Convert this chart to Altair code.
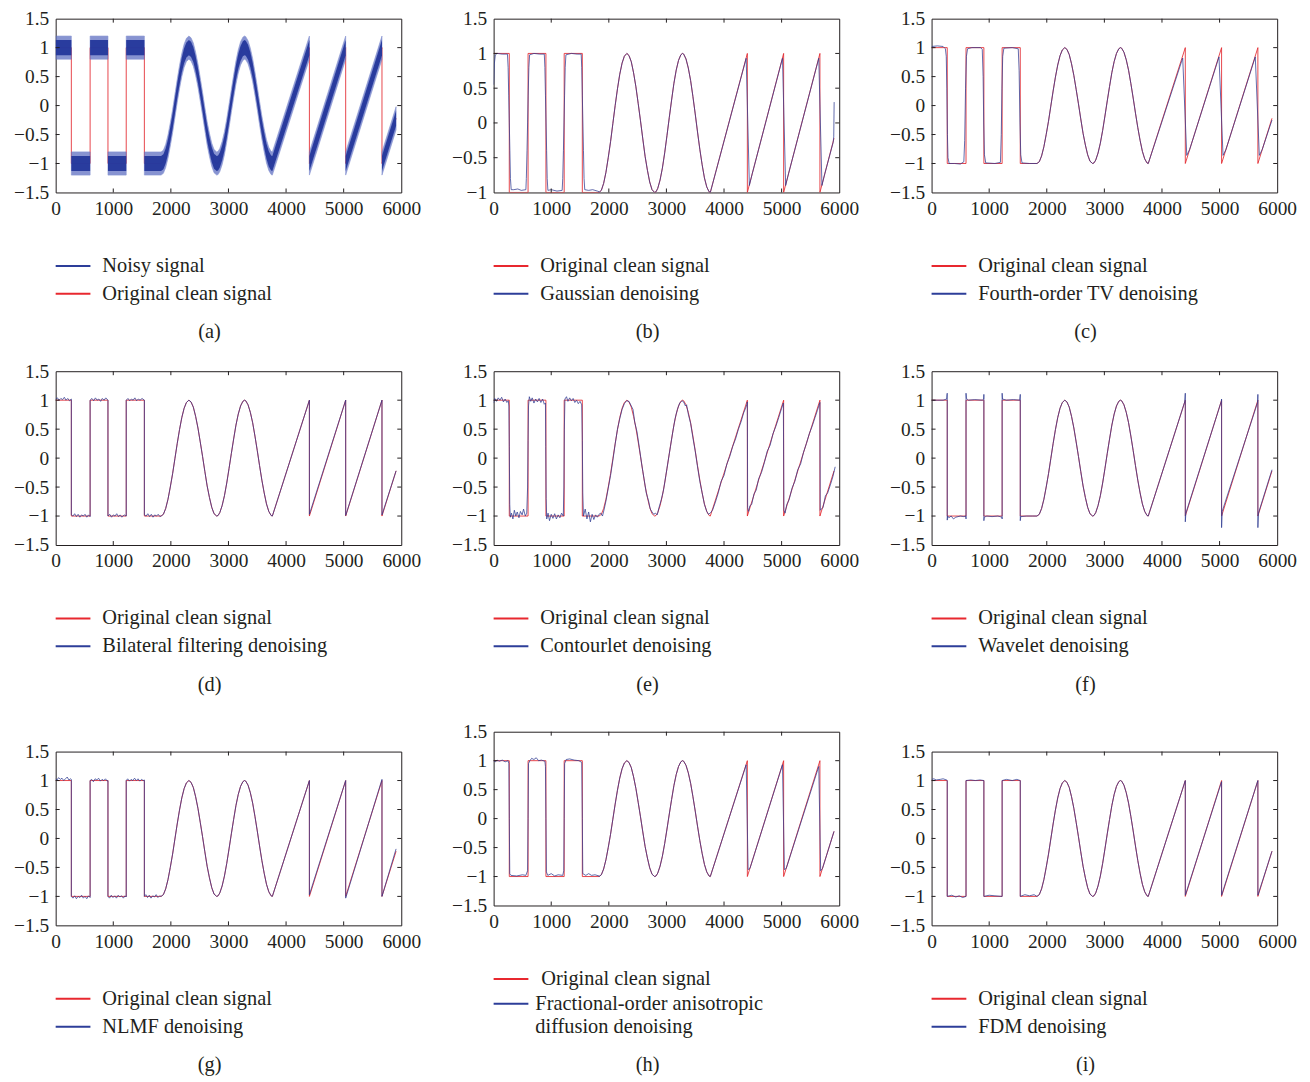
import altair as alt
import pandas as pd

FONT = "Liberation Serif"
INK = "#231f20"
RED = "#e3262d"
BLUE = "#2c3990"
W, H = 348, 175

X_TICKS = [0, 1000, 2000, 3000, 4000, 5000, 6000]
Y_TICKS = [-1.5, -1, -0.5, 0, 0.5, 1, 1.5]
Y_TICKS_B = [-1, -0.5, 0, 0.5, 1, 1.5]

# ---- original clean signal (square, sine, sawtooth) ----
SQUARE_CLEAN = [[0, 1], [272, 1], [272, -1], [598, -1], [598, 1], [908, 1], [908, -1],
                [1225, -1], [1225, 1], [1540, 1], [1540, -1], [1830, -1]]
SINE_CLEAN = [[1830, -1], [1870, -0.97], [1910, -0.87], [1950, -0.71], [1990, -0.50], [2030, -0.27],
              [2070, -0.01], [2110, 0.25], [2150, 0.49], [2190, 0.70], [2230, 0.86], [2270, 0.96],
              [2313, 1.0], [2350, 0.97], [2390, 0.88], [2430, 0.72], [2470, 0.52], [2510, 0.28],
              [2550, 0.03], [2590, -0.23], [2630, -0.48], [2670, -0.68], [2710, -0.85], [2750, -0.96],
              [2796, -1.0], [2820, -0.99], [2850, -0.94], [2890, -0.82], [2930, -0.65], [2970, -0.43],
              [3010, -0.18], [3050, 0.08], [3090, 0.33], [3130, 0.57], [3170, 0.76], [3210, 0.90],
              [3250, 0.98], [3279, 1.0], [3300, 0.99], [3340, 0.92], [3380, 0.79], [3420, 0.61],
              [3460, 0.38], [3500, 0.13], [3540, -0.13], [3580, -0.38], [3620, -0.60], [3660, -0.79],
              [3700, -0.92], [3740, -0.99], [3762, -1.0]]
SAW_CLEAN = [[4405, 1], [4405, -1], [5035, 1], [5035, -1], [5665, 1], [5665, -1], [5910, -0.22]]

# ---- (b) Gaussian denoising ----
GAUSS_SQUARE = [[0, 0.55], [12, 0.85], [30, 0.98], [60, 1.0], [150, 0.99], [240, 0.99], [252, 0.8],
                [262, 0.4], [272, 0], [282, -0.4], [292, -0.8], [305, -0.96], [350, -0.96],
                [420, -0.95], [480, -0.97], [560, -0.96], [568, -0.8], [580, -0.4], [590, 0],
                [600, 0.4], [612, 0.8], [625, 0.98], [700, 1.0], [800, 0.99], [880, 0.99],
                [890, 0.8], [900, 0.4], [910, 0], [920, -0.4], [930, -0.8], [942, -0.97],
                [1000, -0.96], [1100, -0.98], [1190, -0.97], [1200, -0.8], [1212, -0.4], [1222, 0],
                [1232, 0.4], [1243, 0.8], [1255, 0.98], [1350, 1.0], [1450, 0.99], [1520, 0.99],
                [1530, 0.8], [1540, 0.4], [1550, 0], [1560, -0.4], [1570, -0.8], [1582, -0.96],
                [1650, -0.97], [1720, -0.96], [1800, -0.98], [1830, -0.99]]
GAUSS_SAW = [[4385, 0.93], [4440, -0.9], [4490, -0.73], [5015, 0.93], [5070, -0.9], [5120, -0.73],
             [5645, 0.93], [5700, -0.9], [5750, -0.73], [5895, -0.28], [5905, -0.2], [5912, 0.3]]

# ---- (c) Fourth-order TV denoising ----
TV_SQUARE = [[0, 1.02], [100, 1.03], [200, 1.02], [240, 0.98], [255, 0.85], [265, 0.3], [275, -0.5],
             [285, -0.9], [305, -1.0], [400, -1.0], [500, -1.01], [560, -0.97], [575, -0.6],
             [590, 0.3], [605, 0.85], [625, 0.98], [700, 1.0], [850, 1.0], [880, 0.97], [895, 0.5],
             [905, -0.3], [918, -0.85], [940, -0.99], [1100, -1.0], [1195, -0.98], [1210, -0.5],
             [1222, 0.3], [1235, 0.85], [1255, 0.99], [1400, 1.0], [1505, 0.98], [1520, 0.6],
             [1535, -0.3], [1548, -0.85], [1570, -0.99], [1700, -1.0], [1830, -1.0]]
TV_SAW = [[4360, 0.82], [4430, -0.86], [4480, -0.76], [4990, 0.84], [5060, -0.86], [5110, -0.76],
          [5620, 0.84], [5690, -0.86], [5740, -0.76], [5910, -0.25]]

# ---- (d) Bilateral filtering denoising ----
BIL_SQUARE = [[0, 1.02], [30, 1.04], [60, 1.0], [90, 1.03], [120, 1.01], [150, 1.05], [180, 1.0],
              [210, 1.03], [240, 0.99], [272, 1.02], [272, -0.98], [300, -1.0], [330, -0.96],
              [360, -1.01], [390, -0.97], [420, -1.02], [450, -0.98], [480, -1.0], [510, -0.97],
              [540, -1.02], [570, -0.98], [598, -1.01], [598, 1.0], [630, 1.03], [660, 0.99],
              [690, 1.04], [720, 1.0], [750, 1.02], [780, 0.98], [810, 1.03], [840, 1.0], [870, 1.04],
              [908, 1.0], [908, -1.0], [940, -0.97], [970, -1.02], [1000, -0.98], [1030, -1.0],
              [1060, -0.96], [1090, -1.01], [1120, -0.98], [1150, -1.02], [1190, -0.98],
              [1225, -1.0], [1225, 1.0], [1255, 1.03], [1285, 0.99], [1315, 1.02], [1345, 1.0],
              [1375, 1.04], [1405, 0.99], [1435, 1.02], [1465, 1.0], [1500, 1.03], [1540, 1.0],
              [1540, -0.98], [1570, -1.0], [1600, -0.96], [1630, -1.01], [1660, -0.97],
              [1690, -1.02], [1720, -0.98], [1750, -1.0], [1780, -0.97], [1810, -1.01], [1830, -1.0]]
BIL_SAW = [[4405, 1.0], [4405, -0.97], [5035, 1.0], [5035, -0.99], [5665, 1.0], [5665, -0.98],
           [5910, -0.22]]

# ---- (e) Contourlet denoising ----
CONT_SQUARE = [[0, 0.95], [20, 1.03], [50, 0.98], [80, 1.04], [110, 1.0], [140, 1.05], [170, 0.97],
               [200, 1.02], [230, 0.96], [255, 0.99], [265, 0.9], [272, 0.2], [280, -0.8],
               [290, -1.02], [310, -0.95], [335, -1.05], [360, -0.9], [385, -1.0], [410, -0.93],
               [440, -1.03], [465, -0.92], [495, -0.98], [520, -0.88], [550, -1.0], [575, -0.95],
               [590, -0.5], [598, 0.3], [606, 0.9], [620, 1.06], [645, 0.98], [670, 1.04],
               [700, 0.95], [730, 1.02], [760, 0.97], [790, 1.03], [820, 0.96], [850, 1.02],
               [880, 0.93], [900, 0.95], [905, 0.2], [912, -0.7], [922, -1.05], [945, -0.95],
               [970, -1.08], [1000, -0.97], [1030, -1.04], [1060, -0.96], [1090, -1.05],
               [1120, -0.98], [1150, -1.03], [1180, -0.95], [1210, -1.0], [1220, -0.5], [1228, 0.5],
               [1238, 1.02], [1265, 1.06], [1290, 0.98], [1320, 1.04], [1350, 0.99], [1380, 1.03],
               [1410, 0.96], [1440, 1.0], [1470, 0.94], [1500, 0.98], [1530, 0.92], [1540, 0.3],
               [1548, -0.6], [1560, -1.0], [1590, -0.88], [1620, -1.05], [1650, -0.93],
               [1680, -1.1], [1710, -0.97], [1740, -1.06], [1770, -0.98], [1800, -1.02], [1830, -0.97]]
CONT_SINE = [[1860, -0.95], [1890, -1.0], [1920, -0.88], [1950, -0.74], [1990, -0.52], [2030, -0.3],
             [2070, -0.04], [2110, 0.24], [2150, 0.5], [2190, 0.68], [2230, 0.84], [2270, 0.94],
             [2310, 0.99], [2350, 0.98], [2390, 0.9], [2420, 0.84], [2450, 0.62], [2490, 0.45],
             [2530, 0.18], [2570, -0.1], [2610, -0.35], [2650, -0.6], [2690, -0.74], [2720, -0.88],
             [2750, -0.93], [2780, -0.97], [2810, -0.95], [2840, -0.98], [2870, -0.86],
             [2910, -0.72], [2950, -0.55], [2990, -0.3], [3030, -0.05], [3070, 0.2], [3110, 0.45],
             [3150, 0.68], [3190, 0.84], [3230, 0.95], [3270, 0.99], [3300, 0.97], [3330, 0.9],
             [3350, 0.92], [3380, 0.76], [3420, 0.6], [3460, 0.35], [3500, 0.12], [3540, -0.15],
             [3580, -0.4], [3620, -0.6], [3660, -0.8], [3700, -0.92], [3730, -0.97], [3760, -0.95]]
CONT_SAW = [[3800, -0.9], [3850, -0.76], [3900, -0.6], [3950, -0.4], [4000, -0.3], [4050, -0.1],
            [4100, 0.03], [4150, 0.2], [4200, 0.33], [4250, 0.5], [4300, 0.64], [4340, 0.78],
            [4370, 0.85], [4395, 0.92], [4405, 0.97], [4410, -0.85], [4425, -0.92], [4450, -0.82],
            [4480, -0.8], [4520, -0.62], [4560, -0.55], [4600, -0.36], [4650, -0.25], [4700, -0.08],
            [4750, 0.12], [4800, 0.22], [4850, 0.42], [4900, 0.55], [4950, 0.7], [5000, 0.86],
            [5030, 0.95], [5040, -0.9], [5060, -0.95], [5090, -0.8], [5130, -0.72], [5180, -0.52],
            [5230, -0.4], [5280, -0.2], [5330, -0.1], [5380, 0.1], [5430, 0.25], [5480, 0.42],
            [5530, 0.55], [5580, 0.7], [5620, 0.82], [5655, 0.93], [5665, 0.96], [5670, -0.9],
            [5690, -0.88], [5720, -0.85], [5760, -0.65], [5800, -0.6], [5850, -0.45],
            [5890, -0.32], [5930, -0.15]]

# ---- (f) Wavelet denoising ----
WAV_SQUARE = [[0, 1.0], [100, 1.0], [200, 1.0], [262, 1.02], [268, 1.1], [272, 1.12], [272, -1.07],
              [280, -1.0], [300, -1.03], [340, -1.0], [380, -1.05], [420, -1.02], [500, -1.0],
              [560, -1.01], [594, -1.0], [598, -1.05], [598, 1.12], [605, 1.03], [640, 1.0],
              [750, 1.01], [880, 1.0], [905, 1.02], [908, 1.1], [908, -1.08], [915, -1.02],
              [960, -1.0], [1050, -1.01], [1150, -1.0], [1222, -1.02], [1225, -1.05], [1225, 1.12],
              [1232, 1.02], [1300, 1.0], [1420, 1.01], [1530, 1.0], [1540, 1.1], [1540, -1.08],
              [1548, -1.01], [1650, -1.0], [1750, -1.0], [1830, -1.0]]
WAV_SAW = [[4395, 0.97], [4405, 1.12], [4405, -1.1], [4415, -0.95], [5030, 0.98], [5035, 1.02],
           [5035, -1.2], [5045, -0.92], [5660, 0.96], [5665, 1.1], [5665, -1.2], [5675, -0.95],
           [5910, -0.2]]

# ---- (g) NLMF denoising ----
NLMF_SQUARE = [[0, 1.03], [25, 1.01], [50, 1.05], [80, 1.02], [110, 1.04], [140, 1.0], [170, 1.03],
               [200, 1.06], [230, 1.01], [260, 1.03], [272, 1.02], [272, -1.0], [300, -1.03],
               [330, -0.99], [360, -1.04], [390, -1.0], [420, -1.02], [450, -0.98], [480, -1.03],
               [510, -1.0], [540, -1.04], [570, -0.99], [598, -1.02], [598, 1.0], [625, 1.02],
               [655, 0.98], [685, 1.03], [715, 1.01], [745, 1.04], [775, 0.99], [805, 1.02],
               [835, 1.0], [865, 1.03], [895, 0.99], [908, 1.0], [908, -1.0], [935, -1.03],
               [965, -0.98], [995, -1.02], [1025, -0.99], [1055, -1.03], [1085, -0.98],
               [1115, -1.01], [1145, -0.99], [1175, -1.03], [1205, -0.99], [1225, -1.01],
               [1225, 1.0], [1250, 1.03], [1280, 0.99], [1310, 1.02], [1340, 1.0], [1370, 1.04],
               [1400, 1.0], [1430, 1.03], [1460, 0.99], [1490, 1.02], [1520, 1.0], [1540, 1.01],
               [1540, -1.0], [1565, -0.97], [1595, -1.02], [1625, -0.98], [1655, -1.03],
               [1685, -0.99], [1715, -1.01], [1745, -0.97], [1775, -1.02], [1805, -0.99], [1830, -1.0]]
NLMF_SAW = [[4405, 1.0], [4405, -0.97], [5035, 1.0], [5035, -1.03], [5665, 1.02], [5665, -1.0],
            [5910, -0.18]]

# ---- (h) Fractional-order anisotropic diffusion denoising ----
FRAC_SQUARE = [[0, 1.0], [30, 0.98], [60, 1.01], [100, 0.99], [150, 1.01], [200, 0.98], [250, 1.0],
               [265, 0.95], [272, 0], [280, -0.95], [300, -0.98], [400, -0.99], [500, -0.97],
               [560, -0.98], [590, -0.9], [598, 0], [606, 0.95], [630, 1.0], [660, 1.04],
               [700, 1.02], [740, 1.05], [780, 1.0], [830, 1.01], [890, 0.99], [900, 0.9], [908, 0],
               [916, -0.92], [940, -0.98], [1000, -0.95], [1060, -0.99], [1120, -0.97],
               [1200, -0.98], [1218, -0.9], [1225, 0], [1233, 0.95], [1260, 1.02], [1320, 1.03],
               [1400, 1.01], [1480, 1.0], [1530, 0.97], [1540, 0], [1548, -0.95], [1600, -0.98],
               [1650, -0.95], [1700, -0.98], [1760, -0.97], [1830, -0.99]]
FRAC_SAW = [[4385, 0.93], [4418, -0.88], [4450, -0.86], [5015, 0.93], [5048, -0.88], [5080, -0.86],
            [5645, 0.9], [5678, -0.9], [5710, -0.86], [5910, -0.22]]

# ---- (i) FDM denoising ----
FDM_SQUARE = [[0, 1.02], [40, 1.03], [80, 1.01], [150, 1.02], [200, 1.03], [260, 1.01], [272, 1.0],
              [272, -1.0], [350, -0.98], [420, -1.01], [480, -0.99], [540, -1.02], [598, -1.0],
              [598, 1.0], [680, 1.01], [760, 1.0], [840, 1.01], [908, 1.0], [908, -1.0],
              [1000, -0.98], [1100, -0.99], [1225, -1.0], [1225, 1.0], [1300, 1.02], [1400, 1.0],
              [1480, 1.02], [1540, 1.0], [1540, -1.0], [1620, -0.97], [1700, -0.99], [1780, -0.97],
              [1830, -1.0]]
FDM_SAW = [[4405, 1.0], [4405, -0.98], [5035, 0.98], [5035, -0.98], [5665, 1.0], [5665, -0.98],
           [5910, -0.22]]

CLEAN = SQUARE_CLEAN + SINE_CLEAN + SAW_CLEAN

LEG_RED = "#e8282f"
LEG_BLUE = "#2d3e99"


def table(points):
    return pd.DataFrame([{"x": a, "y": b, "o": i} for i, (a, b) in enumerate(points)])


def segmented(points):
    rows, seg = [], 0
    for i, (a, b) in enumerate(points):
        if i > 0 and a == points[i - 1][0] and b != points[i - 1][1]:
            seg += 1
        rows.append({"x": a, "y": b, "o": i, "seg": seg})
    return pd.DataFrame(rows)


def panel(denoised, legend, caption, ydom, yticks, noisy=False, cap_y=316):
    xscale = alt.Scale(domain=[0, 6000], nice=False, zero=False)
    yscale = alt.Scale(domain=ydom, nice=False, zero=False)
    xaxis = alt.Axis(values=X_TICKS, format="d", title=None, labelFlush=False)
    yaxis = alt.Axis(values=yticks, format="~g", title=None, labelFlush=False)

    def X(f="x"):
        return alt.X(f"{f}:Q", scale=xscale, axis=xaxis)

    def Y(f="y"):
        return alt.Y(f"{f}:Q", scale=yscale, axis=yaxis)

    layers = [alt.Chart(table(CLEAN)).mark_line(color=RED, strokeWidth=1, opacity=0.85, clip=True)
              .encode(x=X(), y=Y(), order="o:Q")]
    if noisy:
        base = alt.Chart(segmented(CLEAN)).transform_calculate(
            lo1="datum.y - 0.2", hi1="datum.y + 0.2", lo2="datum.y - 0.13", hi2="datum.y + 0.13")
        layers.append(base.mark_area(color="#5f70c2", opacity=0.75, clip=True, stroke="#5f70c2",
                                     strokeWidth=1, strokeOpacity=0.6)
                      .encode(x=X(), y=Y("lo1"), y2="hi1:Q", detail="seg:N"))
        layers.append(base.mark_area(color="#24379b", opacity=0.95, clip=True)
                      .encode(x=X(), y=Y("lo2"), y2="hi2:Q", detail="seg:N"))
    else:
        layers.append(alt.Chart(table(denoised)).mark_line(color=BLUE, strokeWidth=1, opacity=0.75,
                                                           clip=True)
                      .encode(x=X(), y=Y(), order="o:Q"))

    tx = pd.DataFrame({"x": X_TICKS[1:-1]})
    ty = pd.DataFrame({"y": [v for v in yticks if v not in ydom]})
    tick = dict(color=INK, strokeWidth=1)
    layers += [
        alt.Chart(tx).mark_rule(**tick).encode(x=X(), y=alt.value(0), y2=alt.value(4)),
        alt.Chart(tx).mark_rule(**tick).encode(x=X(), y=alt.value(H - 4), y2=alt.value(H)),
        alt.Chart(ty).mark_rule(**tick).encode(y=Y(), x=alt.value(0), x2=alt.value(4)),
        alt.Chart(ty).mark_rule(**tick).encode(y=Y(), x=alt.value(W - 4), x2=alt.value(W)),
    ]

    dummy = pd.DataFrame({"k": [0]})
    for color, text, ypos, xpos in legend:
        if color:
            layers.append(alt.Chart(dummy).mark_rule(color=color, strokeWidth=2)
                          .encode(x=alt.value(0), x2=alt.value(35), y=alt.value(ypos)))
        layers.append(alt.Chart(dummy).mark_text(text=text, align="left", baseline="middle",
                                                 font=FONT, fontSize=20.5, color=INK)
                      .encode(x=alt.value(xpos), y=alt.value(ypos)))
    layers.append(alt.Chart(dummy).mark_text(text=caption, align="center", baseline="middle",
                                             font=FONT, fontSize=20.5, color=INK)
                  .encode(x=alt.value(155), y=alt.value(cap_y)))
    # invisible frame that fixes each panel's outer extent for the concat layout
    layers.append(alt.Chart(dummy).mark_rule(opacity=0, strokeOpacity=0)
                  .encode(x=alt.value(-47), x2=alt.value(W + 24), y=alt.value(-10)))
    layers.append(alt.Chart(dummy).mark_rule(opacity=0, strokeOpacity=0)
                  .encode(x=alt.value(-47), x2=alt.value(W + 24), y=alt.value(330)))
    return alt.layer(*layers).properties(width=W, height=H)


def two(first_color, first, second_color, second):
    return [(first_color, first, 249, 47), (second_color, second, 277, 47)]


pa = panel(None, two(LEG_BLUE, "Noisy signal", LEG_RED, "Original clean signal"), "(a)",
           [-1.5, 1.5], Y_TICKS, noisy=True)
pb = panel(GAUSS_SQUARE + SINE_CLEAN + GAUSS_SAW,
           two(LEG_RED, "Original clean signal", LEG_BLUE, "Gaussian denoising"), "(b)",
           [-1, 1.5], Y_TICKS_B)
pc = panel(TV_SQUARE + SINE_CLEAN + TV_SAW,
           two(LEG_RED, "Original clean signal", LEG_BLUE, "Fourth-order TV denoising"), "(c)",
           [-1.5, 1.5], Y_TICKS)
pd_ = panel(BIL_SQUARE + SINE_CLEAN + BIL_SAW,
            two(LEG_RED, "Original clean signal", LEG_BLUE, "Bilateral filtering denoising"), "(d)",
            [-1.5, 1.5], Y_TICKS)
pe = panel(CONT_SQUARE + CONT_SINE + CONT_SAW,
           two(LEG_RED, "Original clean signal", LEG_BLUE, "Contourlet denoising"), "(e)",
           [-1.5, 1.5], Y_TICKS)
pf = panel(WAV_SQUARE + SINE_CLEAN + WAV_SAW,
           two(LEG_RED, "Original clean signal", LEG_BLUE, "Wavelet denoising"), "(f)",
           [-1.5, 1.5], Y_TICKS)
pg = panel(NLMF_SQUARE + SINE_CLEAN + NLMF_SAW,
           two(LEG_RED, "Original clean signal", LEG_BLUE, "NLMF denoising"), "(g)",
           [-1.5, 1.5], Y_TICKS)
ph = panel(FRAC_SQUARE + SINE_CLEAN + FRAC_SAW,
           [(LEG_RED, "Original clean signal", 249, 48),
            (LEG_BLUE, "Fractional-order anisotropic", 274, 42),
            (None, "diffusion denoising", 297, 42)], "(h)",
           [-1.5, 1.5], Y_TICKS, cap_y=336)
pi = panel(FDM_SQUARE + SINE_CLEAN + FDM_SAW,
           two(LEG_RED, "Original clean signal", LEG_BLUE, "FDM denoising"), "(i)",
           [-1.5, 1.5], Y_TICKS)

# columns: the middle column's last panel (h) sits 20px higher than g and i
col1 = alt.vconcat(alt.vconcat(pa, pd_, spacing=13), pg, spacing=41)
col2 = alt.vconcat(alt.vconcat(pb, pe, spacing=13), ph, spacing=21)
col3 = alt.vconcat(alt.vconcat(pc, pf, spacing=13), pi, spacing=41)

chart = (alt.hconcat(col1, col2, col3, spacing=20)
         .properties(padding={"top": -4, "left": 0, "right": 0, "bottom": 0})
         .configure_view(stroke=INK, strokeWidth=1)
         .configure_axis(labelFont=FONT, labelFontSize=19.5, labelColor=INK, domain=False,
                         ticks=False, grid=False, labelPadding=7, labelFlush=False))

chart.save("out.html", embed_options={"renderer": "svg", "actions": False})
